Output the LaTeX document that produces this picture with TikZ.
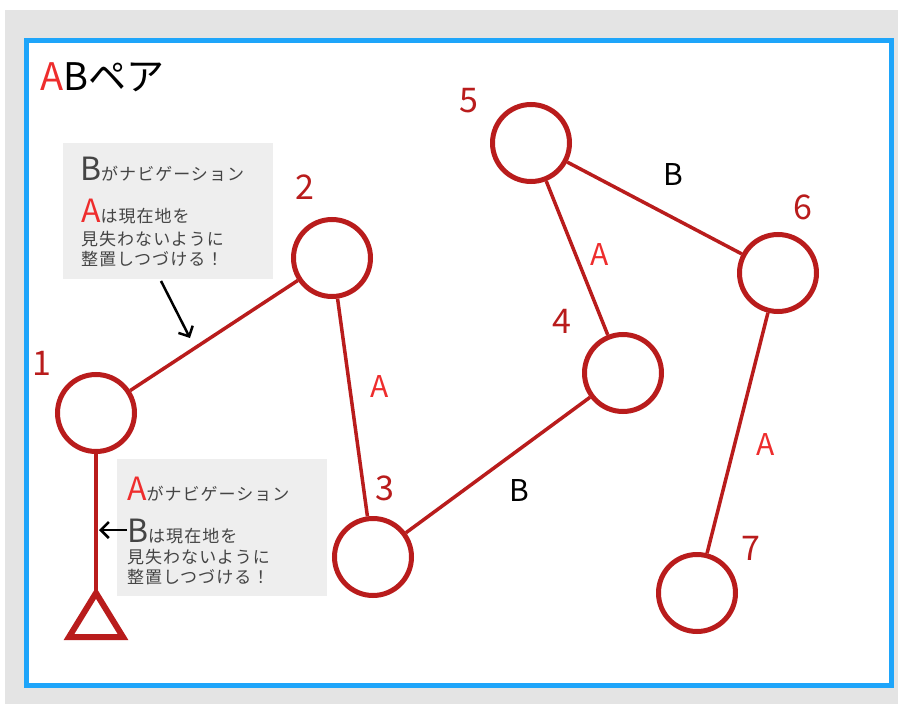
\documentclass[tikz,border=0pt]{standalone}
\usepackage{fontspec}
\setmainfont{Noto Sans CJK JP}
\newfontfamily\jps[LetterSpace=6]{Noto Sans CJK JP}
\usetikzlibrary{arrows.meta}
\definecolor{bgc}{RGB}{228,228,228}
\definecolor{blu}{RGB}{30,165,250}
\definecolor{dred}{RGB}{185,28,28}
\definecolor{lred}{RGB}{238,45,45}
\definecolor{txt}{RGB}{68,68,68}
\definecolor{boxc}{RGB}{238,238,238}
\begin{document}
\begin{tikzpicture}[x=1pt,y=-1pt,
  pnode/.style={circle, draw=dred, line width=5pt, minimum size=77pt, inner sep=0pt},
  edgeln/.style={draw=dred, line width=3.5pt},
  num/.style={text=dred, inner sep=0pt, font=\fontsize{34}{34}\selectfont},
  elab/.style={inner sep=0pt, font=\fontsize{30}{30}\selectfont},
  callbox/.style={fill=boxc, draw=none, anchor=north west, inner sep=0pt},
  cline/.style={anchor=base west, inner sep=0pt, text=txt},
  big/.style={},
  pointer/.style={draw=black, line width=2.5pt, -{Straight Barb[length=8pt,width=16pt]}}
]
\newcommand{\bigL}[1]{{\fontsize{32}{32}\selectfont #1}}
\newcommand{\smJ}[1]{{\jps\fontsize{17}{17}\selectfont #1}}
\useasboundingbox (0,0) rectangle (898,704);
\fill[white] (0,0) rectangle (898,704);
\fill[bgc] (5,10) rectangle (898,704);
\draw[blu, line width=5pt, fill=white] (26,40) rectangle (891,685);

% title
\node[anchor=base west, inner sep=0pt, font=\fontsize{38}{38}\selectfont] (title) at (40,90) {{\color{lred}A}Bペア};

% callout boxes
\node[callbox, minimum width=210pt, minimum height=136pt] (cb1) at (63,143) {};
\node[callbox, minimum width=210pt, minimum height=137pt] (cb2) at (117,459) {};

\node[cline] (c1l1) at (80,180) {\bigL{B}\smJ{がナビゲーション}};
\node[cline] (c1l2) at (81,222) {\bigL{\color{lred}A}\smJ{は現在地を}};
\node[cline] (c1l3) at (81,245) {\smJ{見失わないように}};
\node[cline] (c1l4) at (81,265) {\smJ{整置しつづける！}};

\node[cline] (c2l1) at (127,500) {\bigL{\color{lred}A}\smJ{がナビゲーション}};
\node[cline] (c2l2) at (127,542) {\bigL{B}\smJ{は現在地を}};
\node[cline] (c2l3) at (127,563) {\smJ{見失わないように}};
\node[cline] (c2l4) at (127,583) {\smJ{整置しつづける！}};

% circles
\node[pnode] (n1) at (96,413) {};
\node[pnode] (n2) at (332,258) {};
\node[pnode] (n3) at (373,557) {};
\node[pnode] (n4) at (623,373) {};
\node[pnode] (n5) at (531,143) {};
\node[pnode] (n6) at (778,273) {};
\node[pnode] (n7) at (697,593) {};

% number labels
\node[num] (l1) at (42,363) {1};
\node[num] (l2) at (305,187) {2};
\node[num] (l3) at (385,488) {3};
\node[num] (l4) at (562,321) {4};
\node[num] (l5) at (469,101) {5};
\node[num] (l6) at (803,207) {6};
\node[num] (l7) at (751,548) {7};

% edges
\draw[edgeln] (n1) -- (n2);
\draw[edgeln] (n2) -- (n3);
\draw[edgeln] (n3) -- (n4);
\draw[edgeln] (n4) -- (n5);
\draw[edgeln] (n5) -- (n6);
\draw[edgeln] (n6) -- (n7);

% edge labels
\node[elab, text=lred] (e23) at (380,387) {A};
\node[elab, text=black] (e34) at (519,491) {B};
\node[elab, text=lred] (e45) at (600,255) {A};
\node[elab, text=black] (e56) at (673,175) {B};
\node[elab, text=lred] (e67) at (766,445) {A};

% base triangle
\coordinate (apex) at (96,593);
\draw[edgeln, line width=4pt] (n1.south) -- (apex);
\draw[dred, line width=6pt, line join=miter] (apex) -- (69,637) -- (123,637) -- cycle;

% pointers
\coordinate (a1s) at (161,281);
\coordinate (a1e) at (190,338);
\draw[pointer] (a1s) -- (a1e);
\coordinate (a2s) at (127,530);
\coordinate (a2e) at (99,530);
\draw[pointer] (a2s) -- (a2e);
\end{tikzpicture}
\end{document}
